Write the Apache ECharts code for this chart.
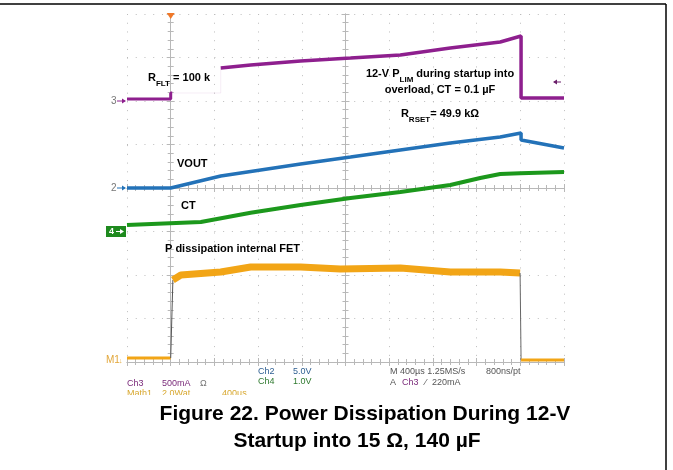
<!DOCTYPE html>
<html><head><meta charset="utf-8">
<script src="https://cdn.jsdelivr.net/npm/echarts@6/dist/echarts.min.js"></script>
<style>html,body{margin:0;padding:0;background:#fff}#c{width:673px;height:470px}</style>
</head><body><div id="c"></div>
<script>
// ---- time base: 400 µs/div, trigger at t = 0 (µs) ----
const timePerDiv = 400;
const timeMin = -400;
const timeMax = 3600;

// ---- Ch3: current (mA) ----
const ch3Pre   = [[-400, 23], [0, 23], [0, 92], [14, 92]];
const ch3Faint = [[14, 92], [458, 92], [458, 379]];
const ch3Ramp  = [[458, 379], [732, 414], [1189, 460], [1646, 494], [2102, 529], [2559, 609], [3016, 678], [3207, 747], [3207, 34], [3600, 34]];

// ---- Ch2: VOUT (V) ----
const ch2Vout = [[-400, 0], [0, 0], [0, 0.11], [458, 1.38], [1189, 2.76], [1646, 3.56], [2102, 4.37], [2559, 5.17], [3016, 5.86], [3207, 6.32], [3207, 5.52], [3600, 4.60]];

// ---- Ch4: CT (V) ----
const ch4Ct = [[-400, 0.15], [276, 0.22], [732, 0.43], [1189, 0.61], [1646, 0.77], [2102, 0.91], [2559, 1.07], [2833, 1.23], [3016, 1.32], [3198, 1.34], [3600, 1.37]];

// ---- Math1: power dissipation (W) ----
const m1Pre   = [[-400, 0.18], [0, 0.18]];
const m1Edge1 = [[0, 0.18], [20, 3.77]];
const m1On    = [[20, 3.77], [93, 4.0], [458, 4.14], [732, 4.37], [1189, 4.37], [1553, 4.28], [2102, 4.32], [2559, 4.14], [3016, 4.14], [3198, 4.09]];
const m1Edge2 = [[3198, 4.09], [3207, 0.09]];
const m1Post  = [[3207, 0.09], [3600, 0.09]];

// ---- scope vertical settings (units per div, ground level in divs from bottom) ----
const ch3Set = { perDiv: 500, ground: 6 };
const ch2Set = { perDiv: 5, ground: 4 };
const ch4Set = { perDiv: 1, ground: 3 };
const m1Set  = { perDiv: 2, ground: 0 };
const vDivs = 8;

const FONT = '"Liberation Sans", Arial, Helvetica, sans-serif';
const C3 = '#8e1f8e', C2 = '#2372b8', C4 = '#1c981c', CM = '#f2a516';
const gridCol = '#b8b8b8';

const chart = echarts.init(document.getElementById('c'), null, { renderer: 'canvas' });

const frameAx = {
  axisLabel: { show: false },
  axisLine: { show: true, lineStyle: { color: gridCol, width: 1 } },
  axisTick: { show: true, inside: true, length: 4, lineStyle: { color: gridCol } },
  minorTick: { show: true, splitNumber: 5, length: 3, lineStyle: { color: gridCol } },
  splitLine: { show: false }
};
const xBase = Object.assign({ type: 'value', min: timeMin, max: timeMax, interval: timePerDiv }, frameAx);
const yBase = Object.assign({ type: 'value', min: 0, max: vDivs, interval: 1 }, frameAx);
const dotted = { show: true, lineStyle: { color: '#bcbcbc', width: 1, type: [1, 7.74] } };

function chAxis(s) {
  return { type: 'value', show: false, min: -s.ground * s.perDiv, max: (vDivs - s.ground) * s.perDiv };
}
function line(data, yIdx, color, width, opacity, z) {
  return { type: 'line', data: data, xAxisIndex: 0, yAxisIndex: yIdx, symbol: 'none', silent: true,
           lineStyle: { color: color, width: width, opacity: opacity }, z: z, animation: false };
}

chart.setOption({
  animation: false,
  backgroundColor: '#fff',
  grid: { left: 127, top: 14, width: 437, height: 348 },
  xAxis: [
    Object.assign({}, xBase, { position: 'bottom', splitLine: dotted }),
    Object.assign({}, xBase, { position: 'top' }),
    Object.assign({}, xBase, { position: 'bottom', offset: -174 }),
    Object.assign({}, xBase, { position: 'top', offset: -174 })
  ],
  yAxis: [
    Object.assign({}, yBase, { position: 'left', splitLine: dotted }),
    Object.assign({}, yBase, { position: 'right' }),
    Object.assign({}, yBase, { position: 'left', offset: -218.5 }),
    Object.assign({}, yBase, { position: 'right', offset: -218.5 }),
    chAxis(ch3Set), chAxis(ch2Set), chAxis(ch4Set), chAxis(m1Set)
  ],
  series: [
    line(m1Pre, 7, CM, 3, 1, 5),
    line(m1Edge1, 7, '#555', 1, 1, 5),
    line(m1On, 7, CM, 7, 1, 5),
    line(m1Edge2, 7, '#666', 1, 1, 5),
    line(m1Post, 7, CM, 3, 1, 5),
    line(ch4Ct, 6, C4, 4, 1, 6),
    line(ch2Vout, 5, C2, 3.5, 1, 7),
    line(ch3Pre, 4, C3, 3, 1, 8),
    line(ch3Faint, 4, C3, 1, 0.08, 8),
    line(ch3Ramp, 4, C3, 3.5, 1, 8)
  ]
});

// ---- annotations ----
const px = (v) => chart.convertToPixel({ xAxisIndex: 0 }, v);
const py = (idx, v) => chart.convertToPixel({ yAxisIndex: idx }, v);
const g = [];
function txt(x, y, text, opt) {
  g.push({ type: 'text', x: x, y: y, z: 100, silent: true,
    style: Object.assign({ text: text, fill: '#000', font: '11px ' + FONT, textVerticalAlign: 'middle' }, opt || {}) });
}
function bold(x, y, text, align) { txt(x, y, text, { font: 'bold 11px ' + FONT, textAlign: align || 'left' }); }
function small(x, y, text, color) { txt(x, y, text, { font: '9px ' + FONT, fill: color }); }
function richLabel(x, y, main, sub, rest, align) {
  g.push({ type: 'text', x: x, y: y, z: 100, silent: true,
    style: { text: '{a|' + main + '}{b|' + sub + '}{a|' + rest + '}', textAlign: align || 'left', textVerticalAlign: 'middle',
      rich: { a: { font: 'bold 11px ' + FONT, fill: '#000', lineHeight: 15, verticalAlign: 'top' },
              b: { font: 'bold 8px ' + FONT, fill: '#000', lineHeight: 9, verticalAlign: 'bottom' } } } });
}

// outer frame lines
g.push({ type: 'line', z: 100, shape: { x1: 0, y1: 4, x2: 666, y2: 4 }, style: { stroke: '#000', lineWidth: 1.5 } });
g.push({ type: 'line', z: 100, shape: { x1: 666, y1: 4, x2: 666, y2: 470 }, style: { stroke: '#000', lineWidth: 1.5 } });

// trigger position marker
const tx = px(0);
g.push({ type: 'polygon', z: 100, shape: { points: [[tx - 4, 13], [tx + 4, 13], [tx, 19]] }, style: { fill: '#f07828' } });
// trigger level arrow (right side)
g.push({ type: 'line', z: 100, shape: { x1: 554, y1: 82, x2: 561, y2: 82 }, style: { stroke: '#6a1f6a', lineWidth: 1 } });
g.push({ type: 'polygon', z: 100, shape: { points: [[557, 79.5], [553, 82], [557, 84.5]] }, style: { fill: '#6a1f6a' } });

// channel ground markers
function gndArrow(y, color, label) {
  txt(111, y, label, { font: '10px ' + FONT, fill: '#777' });
  g.push({ type: 'line', z: 100, shape: { x1: 117, y1: y, x2: 125, y2: y }, style: { stroke: color, lineWidth: 1 } });
  g.push({ type: 'polygon', z: 100, shape: { points: [[122, y - 2.5], [126, y], [122, y + 2.5]] }, style: { fill: color } });
}
gndArrow(py(4, 0), C3, '3');
gndArrow(py(5, 0), C2, '2');
const y4 = py(6, 0);
g.push({ type: 'rect', z: 100, shape: { x: 106, y: y4 - 5.5, width: 20, height: 11 }, style: { fill: '#1e8a1e' } });
txt(109, y4, '4', { font: 'bold 9px ' + FONT, fill: '#fff' });
g.push({ type: 'line', z: 101, shape: { x1: 116, y1: y4, x2: 123, y2: y4 }, style: { stroke: '#fff', lineWidth: 1 } });
g.push({ type: 'polygon', z: 101, shape: { points: [[120, y4 - 2.5], [124, y4], [120, y4 + 2.5]] }, style: { fill: '#fff' } });
const ym = py(7, 0) - 2;
txt(106, ym, 'M1', { font: '10px ' + FONT, fill: '#e2a73a' });
txt(119, ym + 1, '\u2193', { font: '7px ' + FONT, fill: '#e2a73a' });

// in-plot labels
richLabel(148, 80, 'R', 'FLT', ' = 100 k');
richLabel(440, 76, '12-V P', 'LIM', ' during startup into', 'center');
bold(440, 90, 'overload, CT = 0.1 \u00b5F', 'center');
richLabel(440, 116, 'R', 'RSET', '= 49.9 k\u03a9', 'center');
bold(177, 164, 'VOUT');
bold(181, 206, 'CT');
bold(165, 249, 'P dissipation internal FET');

// scope readouts
small(258, 372, 'Ch2', '#2e5f92');
small(293, 372, '5.0V', '#2e5f92');
small(390, 372, 'M 400\u00b5s 1.25MS/s', '#555');
small(486, 372, '800ns/pt', '#555');
small(127, 384, 'Ch3', '#7a2a7a');
small(162, 384, '500mA', '#7a2a7a');
small(200, 384, '\u03a9', '#777');
small(258, 382, 'Ch4', '#2f7a2f');
small(293, 382, '1.0V', '#2f7a2f');
small(390, 383, 'A', '#555');
small(402, 383, 'Ch3', '#7a2a7a');
small(425, 383, '\u2044', '#555');
small(432, 383, '220mA', '#555');
small(127, 394, 'Math1', '#d8a830');
small(162, 394, '2.0Wat', '#d8a830');
small(222, 394, '400\u00b5s', '#d8a830');
g.push({ type: 'rect', z: 120, shape: { x: 100, y: 395, width: 200, height: 7 }, style: { fill: '#fff' } });

// caption
txt(365, 414, 'Figure 22. Power Dissipation During 12-V', { font: 'bold 21px ' + FONT, textAlign: 'center' });
txt(357, 441, 'Startup into 15 \u03a9, 140 \u00b5F', { font: 'bold 21px ' + FONT, textAlign: 'center' });

chart.setOption({ graphic: { elements: g } });
</script>
</body></html>
